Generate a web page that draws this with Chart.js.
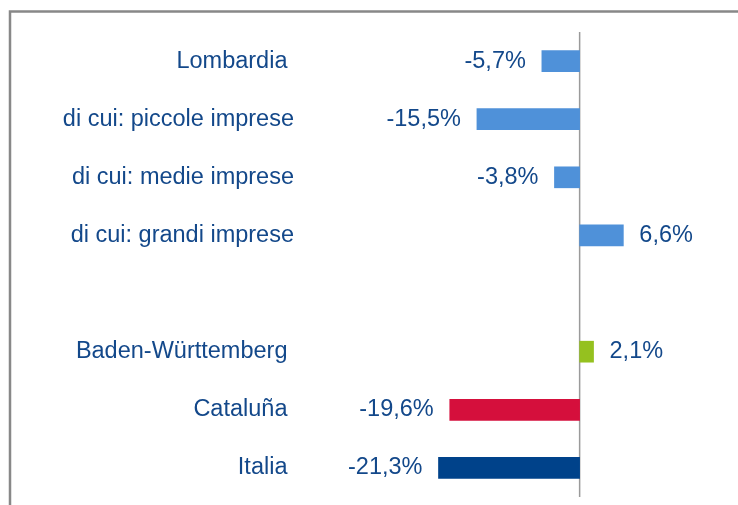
<!DOCTYPE html>
<html>
<head>
<meta charset="utf-8">
<script src="https://cdn.jsdelivr.net/npm/chart.js@4"></script>
<style>
  html, body { margin: 0; padding: 0; background: #ffffff; }
  canvas { display: block; }
</style>
</head>
<body>
<canvas id="c" width="738" height="505"></canvas>
<script>
const categories = ['Lombardia ', 'di cui: piccole imprese', 'di cui: medie imprese', 'di cui: grandi imprese', '', 'Baden-Württemberg ', 'Cataluña ', 'Italia '];
const values = [-5.7, -15.5, -3.8, 6.6, null, 2.1, -19.6, -21.3];
const barColors = ['#4f91d9', '#4f91d9', '#4f91d9', '#4f91d9', '#4f91d9', '#95c11f', '#d50f3c', '#00428a'];

const TEXT_COLOR = '#13488a';
const FONT_FAMILY = '"Liberation Sans", Arial, sans-serif';
const FONT_SIZE = 23.5;

function fmt(v) {
  return v.toFixed(1).replace('.', ',') + '%';
}

const frame = {
  id: 'frame',
  beforeDraw(chart) {
    const ctx = chart.ctx;
    ctx.save();
    ctx.strokeStyle = '#888888';
    ctx.lineWidth = 2.5;
    ctx.beginPath();
    ctx.moveTo(10, 505);
    ctx.lineTo(10, 11.5);
    ctx.lineTo(738, 11.5);
    ctx.stroke();
    ctx.restore();
  }
};

const zeroLine = {
  id: 'zeroLine',
  beforeDatasetsDraw(chart) {
    const ctx = chart.ctx;
    const x0 = chart.scales.x.getPixelForValue(0);
    const area = chart.chartArea;
    ctx.save();
    ctx.strokeStyle = '#9a9a9a';
    ctx.lineWidth = 1.5;
    ctx.beginPath();
    ctx.moveTo(x0, area.top);
    ctx.lineTo(x0, area.bottom);
    ctx.stroke();
    ctx.restore();
  }
};

const valueLabels = {
  id: 'valueLabels',
  afterDatasetsDraw(chart) {
    const ctx = chart.ctx;
    const meta = chart.getDatasetMeta(0);
    ctx.save();
    ctx.font = FONT_SIZE + 'px ' + FONT_FAMILY;
    ctx.fillStyle = TEXT_COLOR;
    ctx.textBaseline = 'middle';
    meta.data.forEach((bar, i) => {
      const v = values[i];
      if (v === null || v === undefined) return;
      if (v < 0) {
        ctx.textAlign = 'right';
        ctx.fillText(fmt(v), bar.x - 16, bar.y);
      } else {
        ctx.textAlign = 'left';
        ctx.fillText(fmt(v), bar.x + 16, bar.y);
      }
    });
    ctx.restore();
  }
};

new Chart(document.getElementById('c'), {
  type: 'bar',
  data: {
    labels: categories,
    datasets: [{
      data: values,
      backgroundColor: barColors,
      borderWidth: 0,
      barThickness: 21
    }]
  },
  options: {
    indexAxis: 'y',
    responsive: false,
    animation: false,
    layout: { padding: { top: 32, bottom: 8, left: 0, right: 0 } },
    plugins: {
      legend: { display: false },
      tooltip: { enabled: false }
    },
    scales: {
      x: {
        display: false,
        min: -42.2,
        max: 23.9
      },
      y: {
        grid: { display: false, drawTicks: false },
        border: { display: false },
        ticks: {
          color: TEXT_COLOR,
          padding: 6,
          font: { family: FONT_FAMILY, size: FONT_SIZE }
        },
        afterFit: (s) => {
          s.width = 300;
          s.paddingTop = 0;
          s.paddingBottom = 0;
        }
      }
    }
  },
  plugins: [frame, zeroLine, valueLabels]
});
</script>
</body>
</html>
